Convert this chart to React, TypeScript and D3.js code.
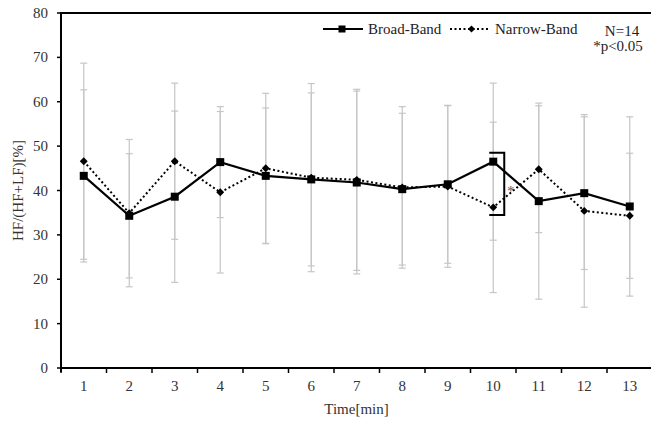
import React, { useEffect, useRef } from "react";
import * as d3 from "d3";

const categories = ["1", "2", "3", "4", "5", "6", "7", "8", "9", "10", "11", "12", "13"];
const broadMean = [43.3, 34.3, 38.6, 46.4, 43.3, 42.5, 41.8, 40.3, 41.4, 46.5, 37.6, 39.4, 36.4];
const broadSD = [19.4, 14.0, 19.3, 12.5, 15.3, 19.5, 20.6, 17.1, 17.8, 17.7, 22.1, 17.2, 20.2];
const narrowMean = [46.6, 34.9, 46.6, 39.6, 45.0, 42.9, 42.4, 40.7, 40.9, 36.2, 44.8, 35.4, 34.3];
const narrowSD = [22.1, 16.6, 17.6, 18.2, 16.9, 21.2, 20.4, 18.2, 18.2, 19.2, 14.3, 21.7, 14.1];
const yTicks = [0, 10, 20, 30, 40, 50, 60, 70, 80];
// significance bracket at minute 10 (values span)
const sigCategory = "10";
const sigRange = [48.5, 34.5];

const FONT = "'Liberation Serif', 'Times New Roman', serif";

const App = () => {
  const svgRef = useRef<SVGSVGElement | null>(null);
  const width = 651;
  const height = 425;
  const left = 61;
  const top = 13;
  const bottom = 368;

  useEffect(() => {
    const svg = d3.select(svgRef.current);
    svg.selectAll("*").remove();

    const x = d3
      .scaleBand()
      .domain(categories)
      .range([left, left + 45.5 * categories.length])
      .padding(0);
    const cx = (c: string) => (x(c) as number) + x.bandwidth() / 2;

    const y = d3.scaleLinear().domain([0, 80]).range([bottom, top]);

    // error bars
    const series = [
      { mean: broadMean, sd: broadSD },
      { mean: narrowMean, sd: narrowSD },
    ];
    const eb = svg.append("g").attr("stroke", "#c6c6c6").attr("stroke-width", 1.2);
    series.forEach((s) => {
      categories.forEach((c, i) => {
        const hi = y(s.mean[i] + s.sd[i]);
        const lo = y(s.mean[i] - s.sd[i]);
        eb.append("line").attr("x1", cx(c)).attr("x2", cx(c)).attr("y1", hi).attr("y2", lo);
        eb.append("line").attr("x1", cx(c) - 3.5).attr("x2", cx(c) + 3.5).attr("y1", hi).attr("y2", hi);
        eb.append("line").attr("x1", cx(c) - 3.5).attr("x2", cx(c) + 3.5).attr("y1", lo).attr("y2", lo);
      });
    });

    // frame top
    svg
      .append("line")
      .attr("x1", left)
      .attr("x2", width)
      .attr("y1", top)
      .attr("y2", top)
      .attr("stroke", "#000")
      .attr("stroke-width", 2);

    // y axis
    const yAxis = svg.append("g");
    yAxis
      .append("line")
      .attr("x1", left)
      .attr("x2", left)
      .attr("y1", top - 1)
      .attr("y2", bottom + 4)
      .attr("stroke", "#000")
      .attr("stroke-width", 2);
    yTicks.forEach((t) => {
      yAxis
        .append("line")
        .attr("x1", left - 4)
        .attr("x2", left)
        .attr("y1", y(t))
        .attr("y2", y(t))
        .attr("stroke", "#000")
        .attr("stroke-width", 1.5);
      yAxis
        .append("text")
        .attr("x", 48)
        .attr("y", y(t) + 5)
        .attr("text-anchor", "end")
        .attr("font-size", "15px")
        .attr("font-family", FONT)
        .attr("fill", "#333")
        .text(t);
    });

    // x axis
    const xAxis = svg.append("g");
    xAxis
      .append("line")
      .attr("x1", left - 1)
      .attr("x2", width)
      .attr("y1", bottom)
      .attr("y2", bottom)
      .attr("stroke", "#000")
      .attr("stroke-width", 2);
    categories.forEach((c) => {
      xAxis
        .append("line")
        .attr("x1", x(c) as number)
        .attr("x2", x(c) as number)
        .attr("y1", bottom)
        .attr("y2", bottom + 5)
        .attr("stroke", "#000")
        .attr("stroke-width", 1.5);
      xAxis
        .append("text")
        .attr("x", cx(c))
        .attr("y", bottom + 23)
        .attr("text-anchor", "middle")
        .attr("font-size", "15px")
        .attr("font-family", FONT)
        .attr("fill", "#333")
        .text(c);
    });

    // axis titles
    svg
      .append("text")
      .attr("x", (left + 652) / 2)
      .attr("y", 414)
      .attr("text-anchor", "middle")
      .attr("font-size", "15px")
      .attr("font-family", FONT)
      .attr("fill", "#333")
      .text("Time[min]");
    svg
      .append("text")
      .attr("transform", `translate(23, ${(top + bottom) / 2}) rotate(-90)`)
      .attr("text-anchor", "middle")
      .attr("font-size", "15px")
      .attr("font-family", FONT)
      .attr("fill", "#333")
      .text("HF/(HF+LF)[%]");

    const line = d3
      .line<number>()
      .x((_, i) => cx(categories[i]))
      .y((d) => y(d));

    // narrow band dotted
    svg
      .append("path")
      .attr("d", line(narrowMean))
      .attr("fill", "none")
      .attr("stroke", "#000")
      .attr("stroke-width", 2)
      .attr("stroke-dasharray", "2,2.5");
    // broad band solid
    svg
      .append("path")
      .attr("d", line(broadMean))
      .attr("fill", "none")
      .attr("stroke", "#000")
      .attr("stroke-width", 2.2);

    const diamond = d3.symbol().type(d3.symbolDiamond2).size(40);
    svg
      .selectAll(".nb")
      .data(narrowMean)
      .join("path")
      .attr("class", "nb")
      .attr("d", diamond)
      .attr("transform", (d, i) => `translate(${cx(categories[i])},${y(d)})`)
      .attr("fill", "#000");
    svg
      .selectAll(".bb")
      .data(broadMean)
      .join("rect")
      .attr("class", "bb")
      .attr("x", (_, i) => cx(categories[i]) - 4)
      .attr("y", (d) => y(d) - 4)
      .attr("width", 8)
      .attr("height", 8)
      .attr("fill", "#000");

    // significance bracket
    const bx = cx(sigCategory) + 11;
    svg
      .append("path")
      .attr(
        "d",
        `M${bx - 15},${y(sigRange[0])}H${bx}V${y(sigRange[1])}H${bx - 15}`
      )
      .attr("fill", "none")
      .attr("stroke", "#000")
      .attr("stroke-width", 2);
    svg
      .append("text")
      .attr("x", bx + 6.5)
      .attr("y", (y(sigRange[0]) + y(sigRange[1])) / 2 + 12)
      .attr("text-anchor", "middle")
      .attr("font-size", "14px")
      .attr("font-family", FONT)
      .attr("fill", "#555")
      .text("*");

    // legend
    const lg = svg.append("g").attr("font-family", FONT).attr("font-size", "15px").attr("fill", "#222");
    lg.append("line").attr("x1", 323).attr("x2", 363).attr("y1", 29).attr("y2", 29).attr("stroke", "#000").attr("stroke-width", 2.2);
    lg.append("rect").attr("x", 338.5).attr("y", 25.5).attr("width", 7).attr("height", 7).attr("fill", "#000");
    lg.append("text").attr("x", 368).attr("y", 34).text("Broad-Band");
    lg.append("line")
      .attr("x1", 450)
      .attr("x2", 489)
      .attr("y1", 29)
      .attr("y2", 29)
      .attr("stroke", "#000")
      .attr("stroke-width", 2)
      .attr("stroke-dasharray", "2,2.5");
    lg.append("path").attr("d", d3.symbol().type(d3.symbolDiamond2).size(32)()).attr("transform", "translate(471.5,29)").attr("fill", "#000");
    lg.append("text").attr("x", 495).attr("y", 34).text("Narrow-Band");
    lg.append("text").attr("x", 622).attr("y", 36).attr("text-anchor", "middle").text("N=14");
    lg.append("text").attr("x", 618).attr("y", 51).attr("text-anchor", "middle").text("*p<0.05");
  }, []);

  return (
    <svg
      ref={svgRef}
      width={width}
      height={height}
      style={{ position: "absolute", left: 0, top: 0, background: "#fff" }}
    />
  );
};

export default App;
